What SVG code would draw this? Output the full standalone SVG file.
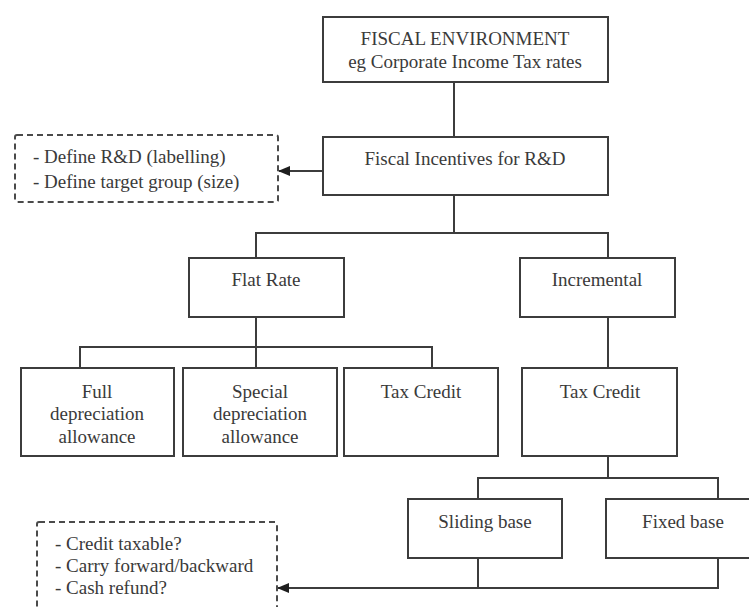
<svg xmlns="http://www.w3.org/2000/svg" width="749" height="607" viewBox="0 0 749 607">
  <style>
    .box { fill: #ffffff; stroke: #3c3c3c; stroke-width: 2; }
    .note { fill: #ffffff; stroke: #4a4a4a; stroke-width: 2; stroke-dasharray: 6 4; }
    .wire { fill: none; stroke: #3c3c3c; stroke-width: 2; }
    text { font-family: "Liberation Serif", "Times New Roman", serif; font-size: 19px; fill: #3a3a3a; }
    .c { text-anchor: middle; }
  </style>
  <defs>
    <marker id="head" viewBox="0 0 12 10" refX="11" refY="5" markerWidth="12" markerHeight="10" markerUnits="userSpaceOnUse" orient="auto">
      <path d="M0,0 L12,5 L0,10 Z" fill="#1e1e1e"/>
    </marker>
  </defs>
  <rect width="749" height="607" fill="#ffffff"/>

  <!-- connectors -->
  <g id="connectors">
    <path class="wire" d="M454,82 V137"/>
    <path class="wire" d="M323,171 H279" marker-end="url(#head)"/>
    <path class="wire" d="M454,195 V233 M256,258 V233 H608 V258"/>
    <path class="wire" d="M256,317 V347 M80,368 V347 H432 V368 M256,347 V368"/>
    <path class="wire" d="M608,317 V368"/>
    <path class="wire" d="M608,456 V478 M478,499 V478 H718 V499"/>
    <path class="wire" d="M478,558 V588 M718,558 V588 H278" marker-end="url(#head)"/>
  </g>

  <g id="fiscal-environment">
    <rect class="box" x="323" y="17" width="285" height="65"/>
    <text class="c" x="465" y="45">FISCAL ENVIRONMENT</text>
    <text class="c" x="465" y="68">eg Corporate Income Tax rates</text>
  </g>

  <g id="fiscal-incentives">
    <rect class="box" x="323" y="137" width="285" height="58"/>
    <text class="c" x="465" y="165">Fiscal Incentives for R&amp;D</text>
  </g>

  <g id="definition-note">
    <rect class="note" x="15" y="135" width="263" height="67" rx="2"/>
    <text x="33" y="163">- Define R&amp;D (labelling)</text>
    <text x="33" y="188">- Define target group (size)</text>
  </g>

  <g id="flat-rate">
    <rect class="box" x="189" y="258" width="155" height="59"/>
    <text class="c" x="266" y="286">Flat Rate</text>
  </g>

  <g id="incremental">
    <rect class="box" x="520" y="258" width="155" height="59"/>
    <text class="c" x="597" y="286">Incremental</text>
  </g>

  <g id="full-depreciation">
    <rect class="box" x="21" y="368" width="153" height="88"/>
    <text class="c" x="97" y="398">Full</text>
    <text class="c" x="97" y="420">depreciation</text>
    <text class="c" x="97" y="443">allowance</text>
  </g>

  <g id="special-depreciation">
    <rect class="box" x="183" y="368" width="154" height="88"/>
    <text class="c" x="260" y="398">Special</text>
    <text class="c" x="260" y="420">depreciation</text>
    <text class="c" x="260" y="443">allowance</text>
  </g>

  <g id="flat-tax-credit">
    <rect class="box" x="344" y="368" width="154" height="88"/>
    <text class="c" x="421" y="398">Tax Credit</text>
  </g>

  <g id="incremental-tax-credit">
    <rect class="box" x="522" y="368" width="155" height="88"/>
    <text class="c" x="600" y="398">Tax Credit</text>
  </g>

  <g id="sliding-base">
    <rect class="box" x="408" y="499" width="154" height="59"/>
    <text class="c" x="485" y="528">Sliding base</text>
  </g>

  <g id="fixed-base">
    <rect class="box" x="606" y="499" width="154" height="59"/>
    <text class="c" x="683" y="528">Fixed base</text>
  </g>

  <g id="credit-note">
    <rect class="note" x="37" y="522" width="240" height="100" rx="2"/>
    <text x="55" y="550">- Credit taxable?</text>
    <text x="55" y="572">- Carry forward/backward</text>
    <text x="55" y="594">- Cash refund?</text>
  </g>
</svg>
